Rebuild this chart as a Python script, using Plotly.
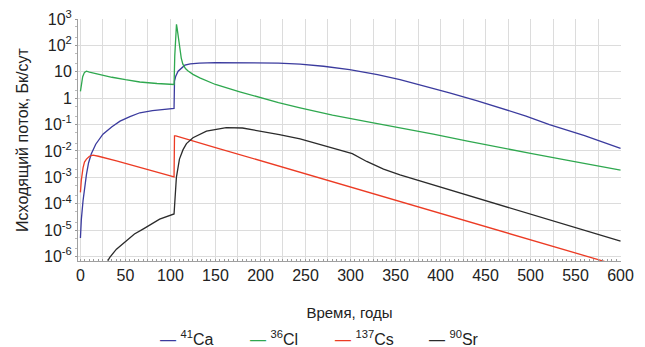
import plotly.graph_objects as go

# ---- data (years, outflow Bq/day) ----
ca_years = [0, 1, 2.9, 4.5, 6.7, 9, 12, 17, 25, 35, 44, 55, 66, 80, 92, 104,
            104.5, 106, 108.5, 112, 116, 122, 132, 150, 177, 200, 220, 244, 270,
            299, 330, 355, 380, 410, 440, 466, 495, 521, 560, 600]
ca_vals = [5e-6, 2.5e-5, 1.3e-4, 4.5e-4, 1.3e-3, 3.5e-3, 7.6e-3, 0.018, 0.043, 0.083,
           0.135, 0.20, 0.28, 0.34, 0.37, 0.41,
           4.4, 7.0, 10.5, 14.0, 17.8, 20.0, 21.4, 22.4, 22.4, 22.2, 21.2, 19.5, 16.2,
           12.0, 7.8, 5.0, 3.0, 1.6, 0.81, 0.43, 0.21, 0.10, 0.038, 0.0126]

cl_years = [0, 1, 2.5, 4.5, 6.7, 10, 20, 35, 50, 66, 85, 104,
            104.8, 105.9, 106.7, 107.4, 108.8, 110, 112, 113.8, 116.7, 119.3,
            125, 132.6, 150, 177, 200, 220, 244, 280, 318, 355, 392, 430, 466,
            500, 540, 570, 600]
cl_vals = [1.8, 3.5, 6.5, 9.5, 10.5, 9.8, 8.0, 6.2, 5.0, 4.1, 3.6, 3.3,
           40.0, 450.0, 630.0, 450.0, 190.0, 80.0, 33.0, 19.5, 13.2, 11.0,
           8.0, 5.9, 3.3, 1.74, 1.02, 0.68, 0.43, 0.23, 0.13, 0.076, 0.043, 0.0236,
           0.0133, 0.0081, 0.0045, 0.0029, 0.00186]

cs_years = [0, 1, 2.9, 4.5, 6.7, 10, 14, 20, 40, 66, 85, 104,
            104.5, 106, 150, 200, 250, 300, 350, 400, 450, 500, 550, 600]
cs_vals = [2.7e-4, 7.9e-4, 2.3e-3, 3.8e-3, 4.9e-3, 6.3e-3, 6.9e-3, 6.3e-3, 4.2e-3,
           2.4e-3, 1.6e-3, 1.05e-3,
           0.037, 0.037, 0.0135, 4.3e-3, 1.35e-3, 4.3e-4, 1.35e-4, 4.3e-5,
           1.35e-5, 4.3e-6, 1.35e-6, 4.3e-7]

sr_years = [28, 32.6, 40, 51, 60, 70, 88, 104,
            104.5, 106.6, 110, 114, 117.8, 125, 140, 162, 180, 199, 221, 244,
            270, 299, 302, 318, 336.7, 355, 400, 450, 500, 550, 600]
sr_vals = [5e-7, 9.3e-7, 1.9e-6, 4.0e-6, 7.1e-6, 1.12e-5, 2.6e-5, 4.1e-5,
           8.3e-5, 1.0e-3, 4.9e-3, 0.0112, 0.019, 0.0316, 0.056, 0.076, 0.074,
           0.0575, 0.0417, 0.0288,
           0.0166, 8.7e-3, 7.9e-3, 4.0e-3, 2.04e-3, 1.23e-3, 4.3e-4, 1.32e-4,
           4.1e-5, 1.23e-5, 3.8e-6]

names = ["<sup>41</sup>Ca", "<sup>36</sup>Cl", "<sup>137</sup>Cs", "<sup>90</sup>Sr"]
colors = ["#3b3b9e", "#2fa84f", "#ec3b24", "#2b2b2b"]
x_tickvals = [0, 50, 100, 150, 200, 250, 300, 350, 400, 450, 500, 550, 600]
y_tickvals = [1e-6, 1e-5, 1e-4, 1e-3, 1e-2, 1e-1, 1, 10, 100, 1000]
y_ticktext = ["10<sup>-6</sup>", "10<sup>-5</sup>", "10<sup>-4</sup>", "10<sup>-3</sup>",
              "10<sup>-2</sup>", "10<sup>-1</sup>", "1", "10", "10<sup>2</sup>",
              "10<sup>3</sup>"]

FONT = "Liberation Sans, Arial, sans-serif"

# page body has an 8px margin, so the figure is a bit smaller than the window
W, H = 637, 339
ML, MR, MT, MB = 70, 24, 11, 86
PW, PH = W - ML - MR, H - MT - MB

fig = go.Figure()
data = [(ca_years, ca_vals), (cl_years, cl_vals), (cs_years, cs_vals), (sr_years, sr_vals)]
for (xs, ys), name, col in zip(data, names, colors):
    fig.add_trace(go.Scatter(x=xs, y=ys, mode="lines", name=name, showlegend=False,
                             line=dict(color=col, width=1.3)))

# invisible helper trace for the fine tick axis
fig.add_trace(go.Scatter(x=[0], y=[1], xaxis="x2", yaxis="y", mode="markers",
                         marker=dict(opacity=0), showlegend=False, hoverinfo="skip"))

# legend drawn as text annotations (short line samples like the reference)
legend_px = [150, 240, 325, 419]
for lx, name, col in zip(legend_px, names, colors):
    fig.add_annotation(xref="paper", yref="paper",
                       x=(lx - ML) / PW, y=-(330 - (MT + PH)) / PH,
                       xanchor="left", yanchor="middle", showarrow=False,
                       text=f'<span style="color:{col}">—</span> {name}',
                       font=dict(size=16, color="#222"))

xr = [-2.7, 600.5]
fig.update_layout(
    width=W, height=H,
    margin=dict(l=ML, r=MR, t=MT, b=MB),
    paper_bgcolor="white", plot_bgcolor="white",
    font=dict(family=FONT, size=15, color="#222"),
    showlegend=False,
    xaxis=dict(range=xr, tickvals=x_tickvals, automargin=False,
               showgrid=True, gridcolor="#dcdcdc", gridwidth=1,
               minor=dict(dtick=25, tick0=0, showgrid=True, gridcolor="#dcdcdc", ticks=""),
               showline=True, linecolor="#a0a0a0", linewidth=1,
               ticks="", zeroline=False, ticklabeloverflow="allow",
               tickfont=dict(size=16),
               title=dict(text="Время, годы", font=dict(size=15), standoff=24)),
    xaxis2=dict(range=xr, overlaying="x", anchor="y", side="bottom", automargin=False,
                showticklabels=False, showgrid=False, zeroline=False,
                ticks="inside", ticklen=2, tickcolor="#999", dtick=5, tick0=0,
                showline=False),
    yaxis=dict(type="log", range=[-6.17, 3.0], automargin=False,
               tickvals=y_tickvals, ticktext=y_ticktext, ticklabeloverflow="allow",
               showgrid=True, gridcolor="#dcdcdc", gridwidth=1,
               showline=True, linecolor="#a0a0a0", linewidth=1,
               ticks="outside", ticklen=2, tickcolor="#999",
               minor=dict(ticks="outside", ticklen=2, tickcolor="#bbb", showgrid=False),
               zeroline=False, tickfont=dict(size=16),
               title=dict(text="Исходящий поток, Бк/сут", font=dict(size=16), standoff=11)),
)

fig.write_html("out.html")
